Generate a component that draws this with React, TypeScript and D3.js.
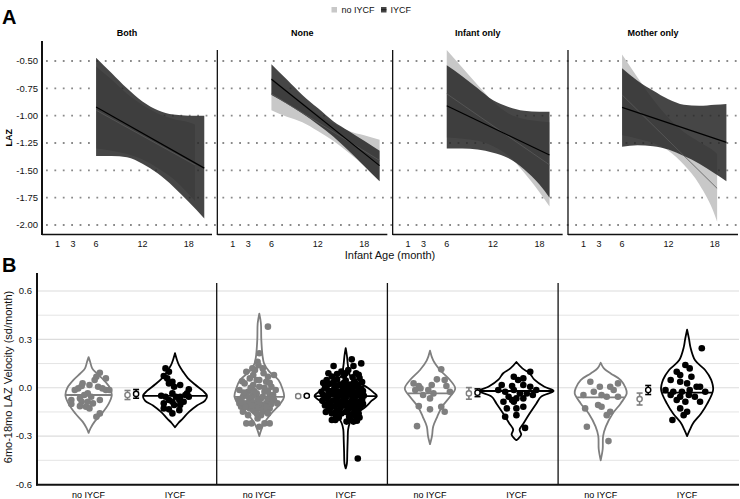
import React from "react";
import * as d3 from "d3";

// ---------- categories / ticks ----------
const facets = ["Both", "None", "Infant only", "Mother only"];
const groups = ["no IYCF", "IYCF"];
const ageTicks = [1, 3, 6, 12, 18];
const lazTicks = [-0.5, -0.75, -1.0, -1.25, -1.5, -1.75, -2.0];
const velTicks = [0.6, 0.3, 0.0, -0.3, -0.6];
const velMinorTicks = [0.45, 0.15, -0.15, -0.45];

// ---------- Panel A: fitted LAZ with CI (per facet) ----------
const agesNo = [
  [6, 8, 10, 12, 14, 16, 18, 18.8],
  [6, 8, 10, 12, 14, 16, 18, 20],
  [6, 8, 10, 12, 14, 16, 18, 19.3],
  [6, 8, 10, 12, 14, 16, 18, 18.3],
];
const upperNo = [
  [-0.55, -0.67, -0.8, -0.9, -0.98, -1.03, -1.06, -1.08],
  [-0.65, -0.77, -0.88, -0.99, -1.07, -1.14, -1.18, -1.22],
  [-0.4, -0.56, -0.72, -0.87, -0.98, -1.03, -1.05, -1.06],
  [-0.44, -0.65, -0.85, -1.02, -1.15, -1.24, -1.33, -1.35],
];
const lowerNo = [
  [-1.3, -1.32, -1.35, -1.4, -1.48, -1.58, -1.72, -1.78],
  [-0.95, -1.01, -1.06, -1.14, -1.23, -1.34, -1.46, -1.6],
  [-1.2, -1.21, -1.23, -1.28, -1.37, -1.52, -1.7, -1.83],
  [-1.18, -1.21, -1.25, -1.32, -1.45, -1.63, -1.91, -1.97],
];
const fitNo = [
  [-0.95, -1.45],
  [-0.8, -1.41],
  [-0.8, -1.45],
  [-0.81, -1.665],
];

const agesIYCF = [
  [6, 8, 10, 12, 14, 16, 18, 20],
  [6, 8, 10, 12, 14, 16, 18, 20],
  [6, 8, 10, 12, 14, 16, 18, 19.3],
  [6, 8, 10, 12, 14, 16, 18, 19.5],
];
const upperIYCF = [
  [-0.47, -0.61, -0.75, -0.87, -0.95, -0.99, -1.0, -1.0],
  [-0.53, -0.67, -0.81, -0.93, -1.05, -1.14, -1.23, -1.32],
  [-0.54, -0.64, -0.75, -0.86, -0.92, -0.955, -0.965, -0.965],
  [-0.567, -0.68, -0.77, -0.85, -0.9, -0.91, -0.9, -0.893],
];
const lowerIYCF = [
  [-1.37, -1.37, -1.38, -1.44, -1.53, -1.65, -1.79, -1.94],
  [-0.81, -0.89, -0.98, -1.08, -1.19, -1.32, -1.46, -1.6],
  [-1.3, -1.3, -1.31, -1.34, -1.39, -1.49, -1.63, -1.75],
  [-1.284, -1.27, -1.28, -1.31, -1.37, -1.44, -1.53, -1.6],
];
const fitIYCF = [
  [-0.92, -1.48],
  [-0.667, -1.457],
  [-0.91, -1.36],
  [-0.924, -1.244],
];

// ---------- Panel B: violins (value, relative density) ----------
const violinNo = [
  [[0.19, 0], [0.16, 0.04], [0.12, 0.09], [0.09, 0.2], [0.05, 0.37], [0.0, 0.53], [-0.045, 0.58], [-0.1, 0.5], [-0.16, 0.33], [-0.21, 0.15], [-0.25, 0.05], [-0.28, 0]],
  [[0.46, 0], [0.4, 0.04], [0.3, 0.05], [0.2, 0.08], [0.15, 0.12], [0.1, 0.25], [0.048, 0.48], [0.0, 0.57], [-0.056, 0.62], [-0.1, 0.52], [-0.16, 0.3], [-0.22, 0.12], [-0.26, 0.05], [-0.3, 0]],
  [[0.23, 0], [0.17, 0.08], [0.11, 0.25], [0.048, 0.5], [-0.004, 0.63], [-0.056, 0.5], [-0.118, 0.3], [-0.18, 0.18], [-0.24, 0.08], [-0.3, 0.05], [-0.35, 0]],
  [[0.155, 0], [0.12, 0.08], [0.089, 0.25], [0.048, 0.5], [0.0, 0.62], [-0.035, 0.65], [-0.097, 0.5], [-0.16, 0.3], [-0.24, 0.13], [-0.3, 0.06], [-0.38, 0.05], [-0.45, 0]],
];
const violinIYCF = [
  [[0.214, 0], [0.18, 0.04], [0.14, 0.1], [0.1, 0.2], [0.06, 0.32], [0.02, 0.5], [-0.02, 0.7], [-0.05, 0.8], [-0.08, 0.75], [-0.11, 0.55], [-0.15, 0.35], [-0.19, 0.2], [-0.22, 0.08], [-0.245, 0]],
  [[0.245, 0], [0.2, 0.03], [0.15, 0.05], [0.1, 0.08], [0.07, 0.12], [0.04, 0.28], [0.0, 0.55], [-0.03, 0.7], [-0.052, 0.78], [-0.08, 0.65], [-0.118, 0.5], [-0.15, 0.32], [-0.18, 0.2], [-0.22, 0.1], [-0.26, 0.06], [-0.32, 0.05], [-0.4, 0.04], [-0.47, 0.03], [-0.5, 0]],
  [[0.16, 0], [0.12, 0.15], [0.09, 0.33], [0.05, 0.45], [0.006, 0.7], [-0.02, 0.93], [-0.055, 0.62], [-0.097, 0.5], [-0.16, 0.33], [-0.22, 0.18], [-0.26, 0.08], [-0.29, 0.12], [-0.315, 0.05], [-0.325, 0]],
  [[0.36, 0], [0.3, 0.05], [0.255, 0.08], [0.17, 0.2], [0.11, 0.45], [0.05, 0.6], [-0.014, 0.65], [-0.1, 0.5], [-0.16, 0.35], [-0.22, 0.15], [-0.26, 0.07], [-0.3, 0]],
];
const medianNo = [-0.045, -0.056, -0.035, -0.06];
const medianIYCF = [-0.05, -0.052, -0.02, -0.03];

// mean and standard error
const meanNo = [-0.045, -0.052, -0.035, -0.07];
const seNo = [0.028, 0.008, 0.036, 0.037];
const meanIYCF = [-0.038, -0.05, -0.031, -0.014];
const seIYCF = [0.027, 0.006, 0.024, 0.028];

// individual velocities: [jitter (category units), value]
const pointsNo = [
  [[0.13, 0.093], [0.09, 0.068], [0.07, 0.048], [0.2, 0.058], [-0.07, 0.027], [-0.08, 0.011], [0.01, 0.017], [-0.12, -0.004], [-0.16, -0.014], [0.11, 0.006], [0.16, -0.004], [0.2, -0.014], [0.24, -0.014], [-0.01, -0.035], [0.03, -0.056], [-0.05, -0.045], [-0.1, -0.066], [-0.2, -0.076], [-0.08, -0.087], [-0.01, -0.087], [0.05, -0.097], [0.13, -0.076], [-0.2, -0.101], [-0.1, -0.114], [-0.03, -0.118], [0.01, -0.128], [0.13, -0.159], [0.09, -0.18]],
  [[0.1, 0.379], [0.0, 0.214], [-0.02, 0.161], [-0.15, 0.099], [-0.05, 0.11], [0.04, 0.12], [0.17, 0.079], [0.1, 0.068], [-0.11, 0.058], [-0.03, 0.048], [0.08, 0.037], [-0.17, 0.027], [-0.07, 0.017], [0.0, 0.006], [0.14, 0.006], [0.19, -0.014], [-0.23, -0.014], [-0.13, -0.025], [0.06, -0.025], [-0.03, -0.035], [0.12, -0.045], [-0.19, -0.056], [-0.09, -0.066], [0.02, -0.066], [0.17, -0.076], [-0.24, -0.076], [-0.15, -0.097], [-0.05, -0.097], [0.08, -0.097], [0.21, -0.097], [-0.21, -0.118], [-0.11, -0.128], [0.0, -0.128], [0.12, -0.128], [-0.19, -0.149], [-0.05, -0.149], [0.08, -0.149], [-0.13, -0.17], [0.02, -0.17], [-0.02, -0.19], [-0.15, -0.221], [-0.09, -0.221], [0.06, -0.221], [0.12, -0.221], [0.0, -0.242], [-0.07, -0.045], [0.04, -0.056], [-0.02, -0.076], [-0.11, -0.087], [0.04, -0.107], [-0.03, -0.118], [-0.15, -0.045], [0.1, -0.076], [-0.07, -0.139], [0.04, -0.139], [-0.23, -0.097], [0.16, -0.045], [0.0, 0.048], [-0.07, 0.079],
    [-0.2, 0.04], [0.12, 0.03], [-0.1, 0.0], [0.06, 0.0], [-0.18, -0.03], [0.1, -0.02], [-0.06, -0.02], [0.15, -0.06], [-0.12, -0.06], [-0.2, -0.09], [0.0, -0.09], [0.14, -0.1], [-0.08, -0.11], [0.08, -0.12], [-0.16, -0.12], [-0.03, -0.16], [0.1, -0.16], [0.05, 0.09], [-0.08, 0.12], [-0.01, 0.14]],
  [[0.13, 0.114], [0.08, 0.052], [0.17, 0.048], [-0.19, 0.027], [-0.13, 0.011], [0.02, 0.017], [0.19, 0.011], [-0.11, -0.004], [-0.17, -0.014], [-0.02, -0.014], [0.04, -0.035], [-0.08, -0.045], [0.23, -0.025], [0.0, -0.066], [-0.13, -0.114], [0.0, -0.134], [0.13, -0.118], [0.17, -0.149], [-0.15, -0.238]],
  [[-0.12, 0.037], [0.2, 0.027], [-0.01, 0.006], [0.11, 0.006], [0.15, -0.014], [-0.08, -0.025], [-0.2, -0.045], [0.01, -0.045], [0.07, -0.056], [0.2, -0.056], [-0.03, -0.107], [0.01, -0.118], [-0.18, -0.128], [0.11, -0.149], [0.07, -0.17], [-0.16, -0.242], [0.09, -0.331]],
];
const pointsIYCF = [
  [[-0.11, 0.12], [-0.07, 0.099], [-0.13, 0.073], [-0.09, 0.058], [-0.03, 0.037], [-0.07, 0.027], [-0.01, 0.006], [0.06, 0.017], [0.16, -0.01], [0.14, -0.035], [-0.16, -0.05], [-0.11, -0.056], [-0.03, -0.035], [0.01, -0.056], [0.06, -0.056], [0.12, -0.045], [-0.07, -0.076], [-0.03, -0.087], [0.05, -0.076], [0.1, -0.087], [-0.13, -0.097], [-0.01, -0.107], [0.06, -0.107], [-0.13, -0.128], [-0.07, -0.134], [0.05, -0.139], [-0.03, -0.159], [0.16, -0.056]],
  [[-0.14, 0.135], [0.07, 0.176], [0.18, 0.151], [0.09, 0.135], [-0.05, 0.1], [0.03, 0.11], [0.12, 0.09], [-0.16, 0.07], [-0.02, 0.075], [0.08, 0.065], [0.16, 0.06], [-0.22, 0.048], [-0.1, 0.05], [0.0, 0.045], [0.1, 0.04], [0.19, 0.035], [-0.18, 0.025], [-0.06, 0.02], [0.05, 0.02], [0.14, 0.015], [-0.24, 0.0], [-0.13, 0.0], [-0.03, -0.005], [0.08, 0.0], [0.18, -0.005], [-0.2, -0.02], [-0.09, -0.025], [0.02, -0.02], [0.12, -0.03], [0.2, -0.02], [-0.26, -0.045], [-0.15, -0.04], [-0.05, -0.05], [0.06, -0.045], [0.16, -0.05], [-0.22, -0.065], [-0.11, -0.07], [0.0, -0.065], [0.1, -0.07], [0.19, -0.075], [-0.18, -0.09], [-0.07, -0.09], [0.04, -0.095], [0.14, -0.09], [-0.24, -0.11], [-0.13, -0.115], [-0.02, -0.11], [0.08, -0.115], [0.17, -0.12], [-0.2, -0.135], [-0.09, -0.14], [0.02, -0.135], [0.12, -0.14], [-0.16, -0.16], [-0.05, -0.16], [0.06, -0.165], [0.15, -0.16], [-0.16, -0.2], [0.01, -0.21], [0.09, -0.21], [0.12, -0.18], [-0.08, -0.185], [0.14, -0.439],
    [-0.2, 0.09], [-0.1, 0.085], [0.0, 0.09], [0.15, 0.08], [-0.26, 0.03], [-0.14, 0.035], [-0.02, 0.03], [0.09, 0.025], [-0.22, 0.01], [-0.09, 0.012], [0.02, 0.008], [0.13, 0.005], [-0.28, -0.025], [-0.16, -0.02], [-0.04, -0.03], [0.07, -0.025], [0.16, -0.03], [-0.2, -0.05], [-0.09, -0.055], [0.01, -0.045], [0.11, -0.055], [0.21, -0.05], [-0.27, -0.08], [-0.15, -0.08], [-0.03, -0.08], [0.07, -0.08], [0.17, -0.085], [-0.21, -0.1], [-0.1, -0.1], [0.0, -0.1], [0.11, -0.1], [0.2, -0.1], [-0.18, -0.125], [-0.06, -0.125], [0.05, -0.125], [0.14, -0.13], [-0.23, -0.15], [-0.12, -0.15], [0.0, -0.15], [0.1, -0.15], [-0.11, -0.175], [0.04, -0.18], [0.16, -0.185], [-0.12, -0.2], [0.05, -0.195], [0.13, -0.205]],
  [[0.16, 0.099], [-0.03, 0.068], [0.08, 0.058], [0.02, 0.048], [-0.17, 0.017], [-0.05, 0.011], [0.08, 0.017], [0.16, 0.006], [0.23, -0.014], [-0.21, -0.014], [-0.13, -0.025], [-0.03, -0.014], [0.04, -0.035], [0.12, -0.035], [0.19, -0.045], [-0.09, -0.056], [0.0, -0.066], [0.08, -0.066], [-0.15, -0.087], [-0.03, -0.087], [-0.11, -0.128], [0.0, -0.128], [0.08, -0.118], [-0.13, -0.18], [0.0, -0.17], [0.1, -0.249], [-0.05, -0.076]],
  [[0.17, 0.245], [-0.02, 0.141], [0.03, 0.12], [-0.12, 0.099], [-0.08, 0.079], [0.05, 0.068], [-0.19, 0.048], [-0.08, 0.037], [0.0, 0.027], [0.11, 0.006], [0.15, 0.006], [-0.25, -0.014], [-0.16, -0.025], [-0.06, -0.025], [0.03, -0.014], [0.21, -0.025], [-0.19, -0.045], [-0.08, -0.056], [0.02, -0.045], [0.09, -0.056], [-0.12, -0.076], [-0.02, -0.087], [0.15, -0.087], [-0.08, -0.128], [0.0, -0.149], [-0.04, -0.17], [-0.17, -0.2]],
];

// ---------- styling ----------
const FONT = "'Liberation Sans', Arial, Helvetica, sans-serif";
const GREY = "#7f7f7f";
const LIGHT_FILL = "#c8c8c8";
const DARK_FILL = "#262626";
const TEXT = "#111";

export default function App() {
  // ----- Panel A layout -----
  const aTop = 41, aBottom = 234.5;
  const yA = d3.scaleLinear().domain([-2.0, -0.5]).range([225, 61]);
  const aPanel = d3.scaleBand().domain(facets).range([42, 42 + 175.33 * 4]).paddingInner(0);
  const aWidth = 170;
  const xA = (i: number) =>
    d3.scaleLinear().domain([-1, 21]).range([aPanel(facets[i])!, aPanel(facets[i])! + aWidth]);

  // ----- Panel B layout -----
  const yB = d3.scaleLinear().domain([-0.6, 0.6]).range([484.5, 291]);
  const bPanel = d3.scaleBand().domain(facets).range([46, 46 + 170.7 * 4]);
  const xGroup = d3.scalePoint().domain(groups).range([42.6, 129]);
  const step = xGroup("IYCF")! - xGroup("no IYCF")!;
  const dens = d3.scaleLinear().domain([0, 1]).range([0, 40]);

  const ribbon = (ages: number[], lo: number[], hi: number[], xs: d3.ScaleLinear<number, number>) =>
    d3
      .area<number>()
      .x((d) => xs(d))
      .y0((_, k) => yA(lo[k]))
      .y1((_, k) => yA(hi[k]))
      .curve(d3.curveMonotoneX)(ages) || "";

  const violinPath = (prof: number[][], cx: number) =>
    d3
      .area<number[]>()
      .y((d) => yB(d[0]))
      .x0((d) => cx - dens(d[1]))
      .x1((d) => cx + dens(d[1]))
      .curve(d3.curveCatmullRom)(prof) || "";

  const widthAt = (prof: number[][], v: number) => {
    for (let k = 0; k < prof.length - 1; k++) {
      const [v0, w0] = prof[k];
      const [v1, w1] = prof[k + 1];
      if (v <= v0 && v >= v1) {
        const t = (v0 - v) / (v0 - v1);
        return w0 + t * (w1 - w0);
      }
    }
    return 0;
  };

  const txt = { fontFamily: FONT } as React.CSSProperties;

  return (
    <svg
      width={740}
      height={499}
      viewBox="0 0 740 499"
      style={{ position: "absolute", left: 0, top: 0, background: "#fff" }}
    >
      <rect x={0} y={0} width={740} height={499} fill="#fff" />

      {/* ================= PANEL A ================= */}
      <text x={2} y={24} fontSize={20} fontWeight={700} style={txt}>A</text>

      {/* legend */}
      <g style={txt} fontSize={9}>
        <rect x={331.5} y={7} width={5.5} height={5.5} fill={LIGHT_FILL} />
        <text x={341.5} y={12.5} fill={TEXT}>{groups[0]}</text>
        <rect x={381} y={7} width={5.5} height={5.5} fill="#444" />
        <line x1={381} x2={386.5} y1={9.75} y2={9.75} stroke="#111" strokeWidth={0.8} />
        <text x={390.5} y={12.5} fill={TEXT}>{groups[1]}</text>
      </g>

      {/* dotted grid */}
      {lazTicks.map((t) => (
        <line
          key={"g" + t}
          x1={46}
          x2={739}
          y1={yA(t)}
          y2={yA(t)}
          stroke="#8a8a8a"
          strokeWidth={1.8}
          strokeDasharray="1.8,6.6"
        />
      ))}

      {facets.map((f, i) => {
        const xs = xA(i);
        const left = aPanel(f)!;
        const aNo = agesNo[i];
        const aY = agesIYCF[i];
        return (
          <g key={"A" + f}>
            <path d={ribbon(aNo, lowerNo[i], upperNo[i], xs)} fill={LIGHT_FILL} />
            <path d={ribbon(aY, lowerIYCF[i], upperIYCF[i], xs)} fill={DARK_FILL} fillOpacity={0.85} />
            <line
              x1={xs(aNo[0])}
              x2={xs(aNo[aNo.length - 1])}
              y1={yA(fitNo[i][0])}
              y2={yA(fitNo[i][1])}
              stroke="#5a5a5a"
              strokeWidth={0.8}
            />
            <line
              x1={xs(aY[0])}
              x2={xs(aY[aY.length - 1])}
              y1={yA(fitIYCF[i][0])}
              y2={yA(fitIYCF[i][1])}
              stroke="#000"
              strokeWidth={1.2}
            />
            {/* axes lines */}
            <line
              x1={left}
              x2={left}
              y1={i === 0 ? aTop : 50}
              y2={aBottom + 0.5}
              stroke="#111"
              strokeWidth={i === 0 ? 2 : 1.3}
            />
            <line x1={left} x2={left + aWidth} y1={aBottom} y2={aBottom} stroke="#111" strokeWidth={1.5} />
            {/* facet title */}
            <text
              x={left + aWidth / 2}
              y={36}
              textAnchor="middle"
              fontSize={9}
              fontWeight={600}
              style={txt}
              fill="#000"
            >
              {f}
            </text>
            {ageTicks.map((t) => (
              <text
                key={"xt" + t}
                x={xs(t)}
                y={246.5}
                textAnchor="middle"
                fontSize={9}
                style={txt}
                fill={TEXT}
              >
                {t}
              </text>
            ))}
          </g>
        );
      })}

      {/* A y tick labels */}
      {lazTicks.map((t) => (
        <text
          key={"yt" + t}
          x={38}
          y={yA(t) + 3.3}
          textAnchor="end"
          fontSize={9.5}
          style={txt}
          fill={TEXT}
        >
          {d3.format(".2f")(t).replace("−", "-")}
        </text>
      ))}
      <text
        transform={`translate(11.5,${(aTop + aBottom) / 2}) rotate(-90)`}
        textAnchor="middle"
        fontSize={9}
        fontWeight={700}
        style={txt}
      >
        LAZ
      </text>
      <text x={390} y={258.5} textAnchor="middle" fontSize={11} style={txt} fill={TEXT}>
        Infant Age (month)
      </text>

      {/* ================= PANEL B ================= */}
      <text x={2} y={272} fontSize={20} fontWeight={700} style={txt}>B</text>

      {velMinorTicks.map((t) => (
        <line key={"bm" + t} x1={37} x2={739} y1={yB(t)} y2={yB(t)} stroke="#e4e4e4" strokeWidth={1} />
      ))}
      {velTicks.map((t) => (
        <line key={"bM" + t} x1={37} x2={739} y1={yB(t)} y2={yB(t)} stroke="#dcdcdc" strokeWidth={1.2} />
      ))}

      {facets.map((f, i) => {
        const left = bPanel(f)!;
        const cxNo = left + xGroup("no IYCF")!;
        const cxY = left + xGroup("IYCF")!;
        const cMid = (cxNo + cxY) / 2;
        const dodge = 4.3;
        const errs = [
          { m: meanNo[i], s: seNo[i], x: cMid - dodge, c: GREY },
          { m: meanIYCF[i], s: seIYCF[i], x: cMid + dodge, c: "#000" },
        ];
        const wNo = dens(widthAt(violinNo[i], medianNo[i]));
        const wY = dens(widthAt(violinIYCF[i], medianIYCF[i]));
        return (
          <g key={"B" + f}>
            {i > 0 && <line x1={left} x2={left} y1={283} y2={485} stroke="#111" strokeWidth={1.3} />}
            {/* violins */}
            <path d={violinPath(violinNo[i], cxNo)} fill="none" stroke={GREY} strokeWidth={1.8} strokeLinejoin="round" />
            <line x1={cxNo - wNo} x2={cxNo + wNo} y1={yB(medianNo[i])} y2={yB(medianNo[i])} stroke={GREY} strokeWidth={1.8} />
            <path d={violinPath(violinIYCF[i], cxY)} fill="none" stroke="#000" strokeWidth={1.8} strokeLinejoin="round" />
            <line x1={cxY - wY} x2={cxY + wY} y1={yB(medianIYCF[i])} y2={yB(medianIYCF[i])} stroke="#000" strokeWidth={1.8} />
            {/* points */}
            {pointsNo[i].map((p, k) => (
              <circle key={"pn" + k} cx={cxNo + p[0] * step} cy={yB(p[1])} r={3.3} fill={GREY} />
            ))}
            {pointsIYCF[i].map((p, k) => (
              <circle key={"py" + k} cx={cxY + p[0] * step} cy={yB(p[1])} r={3.3} fill="#000" />
            ))}
            {/* mean +- se */}
            {errs.map((e, k) => (
              <g key={"e" + k}>
                <line x1={e.x} x2={e.x} y1={yB(e.m - e.s)} y2={yB(e.m + e.s)} stroke={e.c} strokeWidth={1.6} />
                <line x1={e.x - 3} x2={e.x + 3} y1={yB(e.m - e.s)} y2={yB(e.m - e.s)} stroke={e.c} strokeWidth={1.6} />
                <line x1={e.x - 3} x2={e.x + 3} y1={yB(e.m + e.s)} y2={yB(e.m + e.s)} stroke={e.c} strokeWidth={1.6} />
                <circle cx={e.x} cy={yB(e.m)} r={2.6} fill="#fff" stroke={e.c} strokeWidth={1.4} />
              </g>
            ))}
            {/* x labels */}
            {groups.map((g) => (
              <text
                key={"xl" + g}
                x={left + xGroup(g)!}
                y={497.5}
                textAnchor="middle"
                fontSize={9}
                style={txt}
                fill="#000"
              >
                {g}
              </text>
            ))}
          </g>
        );
      })}

      {/* B axes */}
      <line x1={37} x2={37} y1={273} y2={485.5} stroke="#111" strokeWidth={2} />
      <line x1={36} x2={739} y1={484.8} y2={484.8} stroke="#111" strokeWidth={2} />
      {velTicks.map((t) => (
        <text key={"vt" + t} x={32} y={yB(t) + 3.3} textAnchor="end" fontSize={9.5} style={txt} fill={TEXT}>
          {d3.format(".1f")(t).replace("−", "-")}
        </text>
      ))}
      <text
        transform={`translate(12,377) rotate(-90)`}
        textAnchor="middle"
        fontSize={11}
        style={txt}
        fill={TEXT}
      >
        6mo-18mo LAZ Velocity (sd/month)
      </text>
    </svg>
  );
}
